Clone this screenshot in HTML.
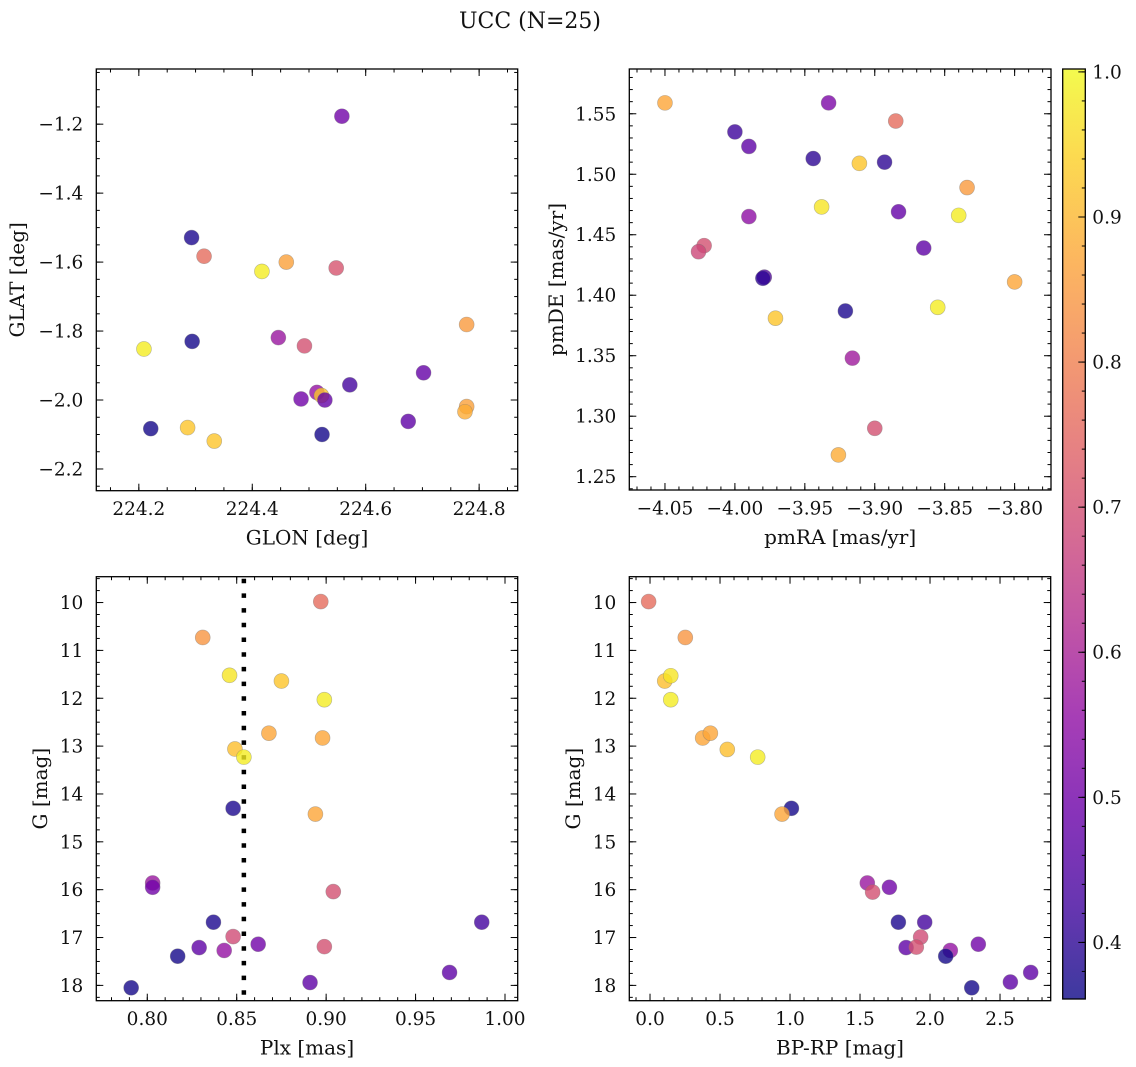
<!DOCTYPE html>
<html><head><meta charset="utf-8">
<style>
html,body{margin:0;padding:0;background:#fff;}
svg{display:block;font-family:"DejaVu Serif","Liberation Serif",serif;}
</style></head>
<body>
<svg id="fig" width="1136" height="1067" viewBox="0 0 1136 1067" xmlns="http://www.w3.org/2000/svg">
<defs>
<linearGradient id="plasmaGrad" x1="0" y1="1" x2="0" y2="0"></linearGradient>
</defs>
<text x="530" y="28" font-size="22" text-anchor="middle" fill="#111">UCC (N=25)</text>
</svg>
<script>
// ---------- data ----------
const glon = [224.558,224.293,224.315,224.417,224.460,224.548,224.778,224.209,224.294,224.446,224.492,224.702,224.572,224.514,224.522,224.528,224.486,224.778,224.775,224.675,224.221,224.286,224.333,224.523];
const glat = [-1.177,-1.529,-1.583,-1.627,-1.600,-1.617,-1.781,-1.852,-1.830,-1.819,-1.843,-1.921,-1.956,-1.978,-1.987,-2.000,-1.997,-2.019,-2.034,-2.062,-2.083,-2.080,-2.119,-2.100];
const prob1 = [0.50,0.38,0.76,0.98,0.86,0.71,0.85,0.98,0.37,0.57,0.70,0.48,0.43,0.56,0.92,0.48,0.50,0.86,0.88,0.47,0.37,0.92,0.92,0.37];

const pmra = [-4.050,-3.933,-3.885,-4.000,-3.990,-3.944,-3.911,-3.893,-3.834,-3.938,-3.883,-3.840,-3.990,-4.022,-4.026,-3.865,-3.979,-3.980,-3.800,-3.921,-3.855,-3.971,-3.916,-3.900,-3.926];
const pmde = [1.559,1.559,1.544,1.535,1.523,1.513,1.509,1.510,1.489,1.473,1.469,1.466,1.465,1.441,1.436,1.439,1.415,1.414,1.411,1.387,1.390,1.381,1.348,1.290,1.268];
const prob2 = [0.87,0.52,0.76,0.42,0.47,0.40,0.92,0.40,0.85,0.97,0.48,0.98,0.55,0.70,0.68,0.47,0.45,0.40,0.87,0.38,0.98,0.92,0.58,0.70,0.88];

const plx  = [0.897,0.831,0.846,0.875,0.899,0.868,0.898,0.849,0.854,0.848,0.894,0.803,0.803,0.904,0.837,0.987,0.848,0.862,0.829,0.843,0.899,0.817,0.969,0.891,0.791];
const gmag = [9.98,10.73,11.52,11.64,12.03,12.73,12.83,13.06,13.23,14.30,14.42,15.86,15.95,16.04,16.68,16.68,16.98,17.14,17.21,17.27,17.19,17.39,17.73,17.94,18.05];
const prob3 = [0.76,0.84,0.97,0.92,0.98,0.87,0.87,0.91,0.98,0.38,0.87,0.57,0.50,0.70,0.38,0.43,0.69,0.50,0.47,0.56,0.70,0.37,0.47,0.47,0.37];

const bprp  = [-0.010,0.252,0.105,0.148,0.148,0.376,0.431,0.552,0.769,1.010,0.943,1.552,1.590,1.710,1.774,1.962,1.933,1.829,1.902,2.145,2.112,2.345,2.719,2.574,2.298];
const gmag4 = [9.98,10.73,11.64,11.53,12.03,12.83,12.73,13.07,13.23,14.30,14.42,15.86,16.05,15.95,16.68,16.68,16.99,17.21,17.20,17.27,17.39,17.14,17.73,17.93,18.05];
const prob4 = [0.76,0.84,0.91,0.97,0.98,0.87,0.87,0.91,0.98,0.37,0.87,0.57,0.70,0.50,0.38,0.43,0.69,0.47,0.70,0.56,0.37,0.50,0.47,0.47,0.37];

const plxLine = 0.854;
const cbMin = 0.361, cbMax = 1.0, cbTop = 1.002;
const cbTicks = [0.4,0.5,0.6,0.7,0.8,0.9,1.0];

// ---------- helpers ----------
const NS = "http://www.w3.org/2000/svg";
const svg = document.getElementById('fig');
const stops = [[0,'#0d0887'],[0.1,'#41049d'],[0.2,'#6a00a8'],[0.3,'#8f0da4'],[0.4,'#b12a90'],[0.5,'#cc4778'],[0.6,'#e16462'],[0.7,'#f2844b'],[0.8,'#fca636'],[0.9,'#fcce25'],[1,'#f0f921']];
function hex(h){return [parseInt(h.substr(1,2),16),parseInt(h.substr(3,2),16),parseInt(h.substr(5,2),16)];}
function plasma(t){
  t=Math.max(0,Math.min(1,t));
  for(let i=0;i<stops.length-1;i++){
    if(t<=stops[i+1][0]){
      const a=hex(stops[i][1]),b=hex(stops[i+1][1]),f=(t-stops[i][0])/(stops[i+1][0]-stops[i][0]);
      return 'rgb('+a.map((v,k)=>Math.round(v+(b[k]-v)*f)).join(',')+')';
    }
  }
  return stops[stops.length-1][1];
}
function el(tag,attrs,parent){const e=document.createElementNS(NS,tag);for(const k in attrs)e.setAttribute(k,attrs[k]);(parent||svg).appendChild(e);return e;}
function fmt(v,d){let s=v.toFixed(d);if(s.startsWith('-'))s='\u2212'+s.slice(1);return s;}

function panel(cfg){
  const {name,L,R,T,B,x0,x1,y0,y1,yinv}=cfg;
  const g=el('g',{});
  
  
  const sx=v=>L+(v-x0)/(x1-x0)*(R-L);
  const sy=v=>yinv? T+(v-y0)/(y1-y0)*(B-T) : B-(v-y0)/(y1-y0)*(B-T);
  const tg=el('g',{stroke:'#000','stroke-width':1},g);
  function ticksX(start,step,n,len){for(let i=0;i<n;i++){const v=start+i*step;if(v<Math.min(x0,x1)-1e-9||v>Math.max(x0,x1)+1e-9)continue;const x=sx(v);el('line',{x1:x,x2:x,y1:B,y2:B-len},tg);el('line',{x1:x,x2:x,y1:T,y2:T+len},tg);}}
  function ticksY(start,step,n,len){for(let i=0;i<n;i++){const v=start+i*step;if(v<Math.min(y0,y1)-1e-9||v>Math.max(y0,y1)+1e-9)continue;const y=sy(v);el('line',{x1:L,x2:L+len,y1:y,y2:y},tg);el('line',{x1:R,x2:R-len,y1:y,y2:y},tg);}}
  ticksX(cfg.xmin0,cfg.xminStep,cfg.xminN,3.5);
  ticksY(cfg.ymin0,cfg.yminStep,cfg.yminN,3.5);
  ticksX(cfg.xmaj0,cfg.xmajStep,cfg.xmajN,7);
  ticksY(cfg.ymaj0,cfg.ymajStep,cfg.ymajN,7);
  for(let i=0;i<cfg.xmajN;i++){const v=cfg.xmaj0+i*cfg.xmajStep;const t=el('text',{x:sx(v),y:B+24.5,'font-size':18.5,'text-anchor':'middle',fill:'#111'},g);t.textContent=fmt(v,cfg.xd);
    
    }
  for(let i=0;i<cfg.ymajN;i++){const v=cfg.ymaj0+i*cfg.ymajStep;const t=el('text',{x:L-13,y:sy(v)+6.5,'font-size':18.5,'text-anchor':'end',fill:'#111'},g);t.textContent=fmt(v,cfg.yd);
    
    }
  const xl=el('text',{x:(L+R)/2,y:B+54,'font-size':20,'text-anchor':'middle',fill:'#111'},g);xl.textContent=cfg.xlabel;
  
  
  const yl=el('text',{transform:`translate(${cfg.ylx},${(T+B)/2}) rotate(-90)`,'font-size':20,'text-anchor':'middle',fill:'#111'},g);yl.textContent=cfg.ylabel;
  
  
  const cid='clip-'+name;
  const cp=el('clipPath',{id:cid},g);el('rect',{x:L,y:T,width:R-L,height:B-T},cp);
  const pg=el('g',{'clip-path':`url(#${cid})`},g);
  if(cfg.vline!==undefined){
    const ln=el('line',{x1:sx(cfg.vline),x2:sx(cfg.vline),y1:T,y2:B,stroke:'#000','stroke-width':4.5,'stroke-dasharray':'4.5 10.2','stroke-dashoffset':'-2'},pg);
    
    
  }
  const xs=cfg.xs,ys=cfg.ys,cs=cfg.cs;
  for(let i=0;i<xs.length;i++){
    const c=el('circle',{cx:sx(xs[i]),cy:sy(ys[i]),r:7.5,fill:plasma((cs[i]-cbMin)/(cbMax-cbMin)),'fill-opacity':0.8,stroke:'#777','stroke-opacity':0.5,'stroke-width':0.6},pg);
    
    
  }
  const fr=el('rect',{x:L,y:T,width:R-L,height:B-T,fill:'none',stroke:'#000','stroke-width':1.3},g);
  
  
}

panel({name:'glon-glat-panel',L:96.3,R:517.7,T:69,B:490.7,x0:224.125,x1:224.868,y0:-2.263,y1:-1.04,yinv:false,
  xmaj0:224.2,xmajStep:0.2,xmajN:4,xmin0:224.15,xminStep:0.05,xminN:15,
  ymaj0:-2.2,ymajStep:0.2,ymajN:6,ymin0:-2.25,yminStep:0.05,yminN:25,xd:1,yd:1,
  xlabel:'GLON [deg]',ylabel:'GLAT [deg]',ylx:24,xs:glon,ys:glat,cs:prob1});
panel({name:'pm-panel',L:629.3,R:1051,T:69,B:490,x0:-4.0755,x1:-3.774,y0:1.239,y1:1.587,yinv:false,
  xmaj0:-4.05,xmajStep:0.05,xmajN:6,xmin0:-4.07,xminStep:0.01,xminN:31,
  ymaj0:1.25,ymajStep:0.05,ymajN:7,ymin0:1.24,yminStep:0.01,yminN:35,xd:2,yd:2,
  xlabel:'pmRA [mas/yr]',ylabel:'pmDE [mas/yr]',ylx:563,xs:pmra,ys:pmde,cs:prob2});
panel({name:'plx-g-panel',L:96.3,R:517.7,T:576.7,B:1000.7,x0:0.7715,x1:1.0071,y0:9.46,y1:18.32,yinv:true,
  xmaj0:0.80,xmajStep:0.05,xmajN:5,xmin0:0.78,xminStep:0.01,xminN:23,
  ymaj0:10,ymajStep:1,ymajN:9,ymin0:9.5,yminStep:0.25,yminN:36,xd:2,yd:0,
  xlabel:'Plx [mas]',ylabel:'G [mag]',ylx:47,xs:plx,ys:gmag,cs:prob3,vline:plxLine});
panel({name:'cmd-panel',L:629.3,R:1050.7,T:576.7,B:1000.7,x0:-0.148,x1:2.862,y0:9.46,y1:18.32,yinv:true,
  xmaj0:0,xmajStep:0.5,xmajN:6,xmin0:-0.1,xminStep:0.1,xminN:30,
  ymaj0:10,ymajStep:1,ymajN:9,ymin0:9.5,yminStep:0.25,yminN:36,xd:1,yd:0,
  xlabel:'BP-RP [mag]',ylabel:'G [mag]',ylx:580,xs:bprp,ys:gmag4,cs:prob4});

// ---------- colorbar ----------
const grad=document.getElementById('plasmaGrad');
for(let i=0;i<=20;i++){const t=i/20;el('stop',{offset:t,'stop-color':plasma(t)},grad);}
const CL=1062.7,CR=1085.3,CT=69,CB=999;
const cy=v=>CB-(v-cbMin)/(cbTop-cbMin)*(CB-CT);
const cbg=el('g',{});


el('rect',{x:CL,y:CT,width:CR-CL,height:CB-CT,fill:'url(#plasmaGrad)','fill-opacity':0.8},cbg);
for(let i=0;i<33;i++){const v=0.38+i*0.02;if(v>cbTop+1e-9)continue;const y=cy(v);el('line',{x1:CR-3.5,x2:CR,y1:y,y2:y,stroke:'#000','stroke-width':1},cbg);}
for(let i=0;i<cbTicks.length;i++){const y=cy(cbTicks[i]);el('line',{x1:CR-7,x2:CR,y1:y,y2:y,stroke:'#000','stroke-width':1},cbg);
  const t=el('text',{x:CR+7,y:y+6.5,'font-size':18.5,fill:'#111'},cbg);t.textContent=cbTicks[i].toFixed(1);
  
  }
el('rect',{x:CL,y:CT,width:CR-CL,height:CB-CT,fill:'none',stroke:'#000','stroke-width':1.3},cbg);
</script>
</body></html>
